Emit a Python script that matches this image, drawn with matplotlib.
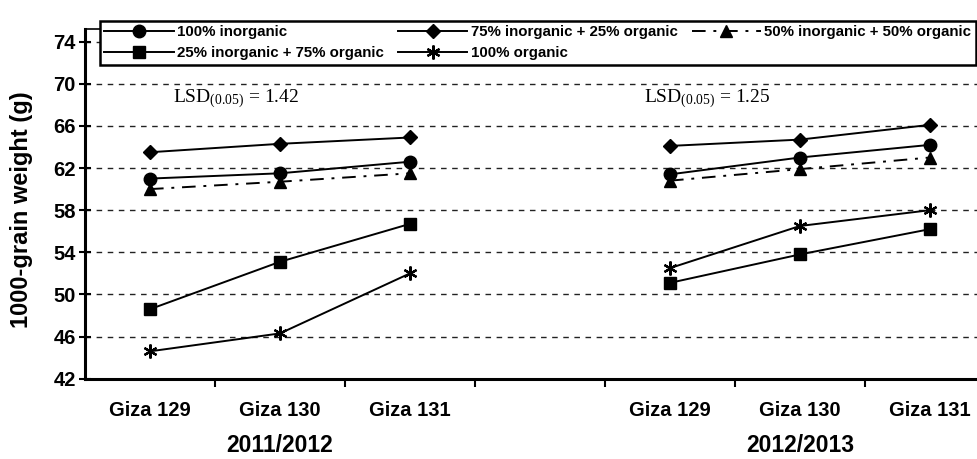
import matplotlib
matplotlib.use("Agg")
import matplotlib.pyplot as plt

# ---- data ----
varieties = ["Giza 129", "Giza 130", "Giza 131"]
seasons = ["2011/2012", "2012/2013"]
yticks = [42, 46, 50, 54, 58, 62, 66, 70, 74]
lsd = ["1.42", "1.25"]

series_names = [
    "100% inorganic",
    "75% inorganic + 25% organic",
    "50% inorganic + 50% organic",
    "25% inorganic + 75% organic",
    "100% organic",
]
# values per season (Giza 129, 130, 131)
inorg100_s1 = [61.0, 61.5, 62.6]
inorg100_s2 = [61.4, 63.0, 64.2]
inorg75_s1 = [63.5, 64.3, 64.9]
inorg75_s2 = [64.1, 64.7, 66.1]
inorg50_s1 = [60.0, 60.7, 61.5]
inorg50_s2 = [60.8, 61.9, 63.0]
inorg25_s1 = [48.6, 53.1, 56.7]
inorg25_s2 = [51.1, 53.8, 56.2]
org100_s1 = [44.6, 46.3, 52.0]
org100_s2 = [52.5, 56.5, 58.0]

plt.rcParams['font.family'] = ['Liberation Sans', 'DejaVu Sans']
plt.rcParams['mathtext.fontset'] = 'custom'
plt.rcParams['mathtext.rm'] = 'Liberation Serif'
plt.rcParams['mathtext.it'] = 'Liberation Serif:italic'
plt.rcParams['mathtext.bf'] = 'Liberation Serif:bold'

W, H = 978, 459
fig = plt.figure(figsize=(W / 100, H / 100), dpi=100)
ax_left, ax_right, ax_top, ax_bottom = 85, 995, 29, 378.7
ax = fig.add_axes([ax_left / W, 1 - ax_bottom / H, (ax_right - ax_left) / W, (ax_bottom - ax_top) / H])

pos1 = [0, 1, 2]
pos2 = [4, 5, 6]

styles = [
    (inorg100_s1, inorg100_s2, dict(marker='o', markersize=9, linestyle='-')),
    (inorg75_s1, inorg75_s2, dict(marker='D', markersize=7.5, linestyle='-')),
    (inorg50_s1, inorg50_s2, dict(marker='^', markersize=9, linestyle=(0, (7, 4, 1.5, 4)))),
    (inorg25_s1, inorg25_s2, dict(marker='s', markersize=9, linestyle='-')),
    (org100_s1, org100_s2, dict(marker=(6, 2, 0), markersize=10, markeredgewidth=1.6, linestyle='-')),
]

handles = []
for (s1, s2, st), name in zip(styles, series_names):
    kw = dict(color='black', linewidth=1.4, markerfacecolor='black', markeredgecolor='black')
    kw.update(st)
    ln, = ax.plot(pos1, s1, **kw, label=name, zorder=3)
    ax.plot(pos2, s2, **kw, zorder=3)
    handles.append(ln)

ax.set_xlim(-0.5, 6.5)
ax.set_ylim(42, 75.2)

# horizontal dashed gridlines
for yv in yticks[1:]:
    ax.axhline(yv, color='#222222', linewidth=1.0, linestyle=(0, (4, 4)), zorder=1)

ax.set_yticks(yticks)
ax.set_yticklabels([str(v) for v in yticks], fontsize=14.5, fontweight='bold')
ax.tick_params(axis='y', direction='inout', length=9, width=1.5, pad=2)
ax.set_xticks([0.5, 1.5, 2.5, 3.5, 4.5, 5.5])
ax.set_xticklabels([])
ax.tick_params(axis='x', direction='out', length=6, width=1.5)
for sp in ['left', 'bottom']:
    ax.spines[sp].set_linewidth(2.2)
for sp in ['top', 'right']:
    ax.spines[sp].set_linewidth(1.2)

# category labels
for p, lab in zip(pos1 + pos2, varieties + varieties):
    fig.text((ax_left + 130 * (p + 0.5)) / W, 1 - 411 / H, lab, ha='center', va='center',
             fontsize=14.5, fontweight='bold')
for p, lab in zip([1, 5], seasons):
    fig.text((ax_left + 130 * (p + 0.5)) / W, 1 - 446 / H, lab, ha='center', va='center',
             fontsize=16.5, fontweight='bold')

# LSD annotations
for xp, v in zip([0.18, 3.8], lsd):
    ax.text(xp, 68.6, r"LSD$_{\mathrm{(0.05)}}$ = " + v, ha='left', va='center', fontsize=14,
            family='Liberation Serif', zorder=4)

fig.text(22 / W, 1 - 210 / H, "1000-grain weight (g)", rotation=90, ha='center', va='center',
         fontsize=17, fontweight='bold')

# legend: row-major order -> column-major for matplotlib
order = [0, 3, 1, 4, 2]
leg = fig.legend([handles[i] for i in order], [series_names[i] for i in order],
                 ncol=3, loc='lower left', mode='expand',
                 bbox_to_anchor=(100 / W, 1 - 65 / H, 876 / W, 53 / H),
                 bbox_transform=fig.transFigure,
                 prop=dict(size=10.8, weight='bold'), handlelength=4.6, handletextpad=0.25,
                 labelspacing=0.5, borderaxespad=0, borderpad=0.3, columnspacing=1.0,
                 fancybox=False, framealpha=1, edgecolor='black')
leg.get_frame().set_linewidth(1.8)

fig.savefig("out.png", dpi=100)
